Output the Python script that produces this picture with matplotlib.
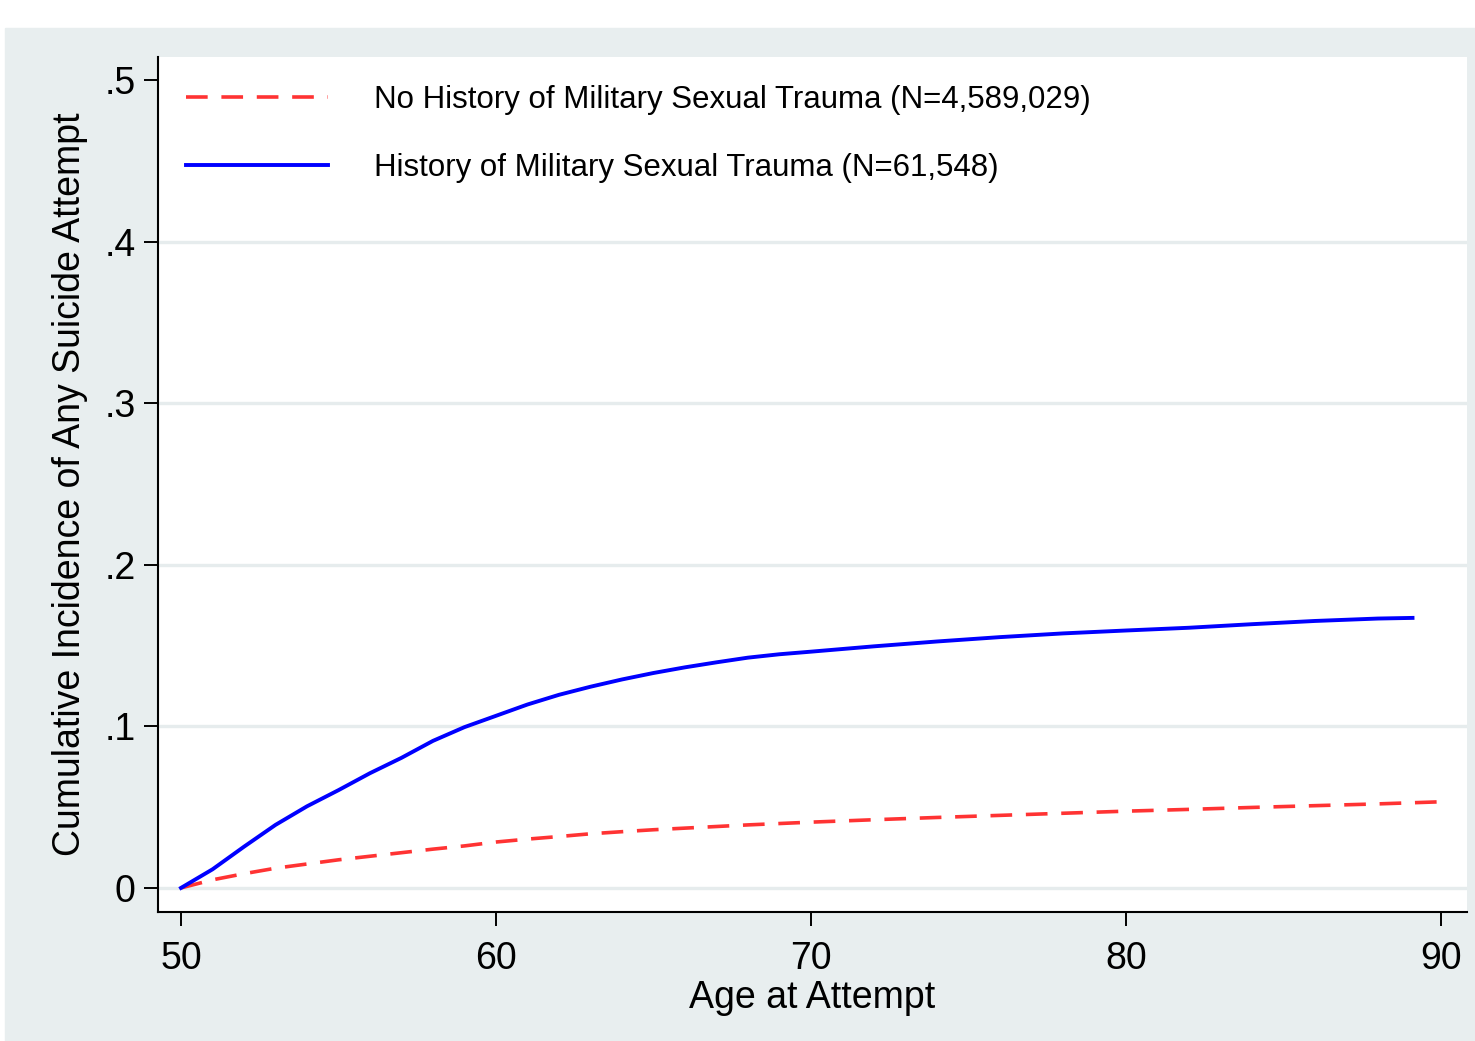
import matplotlib.pyplot as plt
from matplotlib.patches import Rectangle

plt.rcParams['font.family'] = ['Liberation Sans', 'DejaVu Sans']

# Cumulative incidence
mst_age = [50, 51, 52, 53, 54, 55, 56, 57, 58, 59, 60, 61, 62, 63, 64, 65,
           66, 67, 68, 69, 70, 72, 74, 76, 78, 80, 82, 84, 86, 88, 89.1]
mst_inc = [0, 0.0115, 0.0255, 0.039, 0.0505, 0.0605, 0.071, 0.0805, 0.091,
           0.0995, 0.1065, 0.1135, 0.1195, 0.1245, 0.129, 0.133, 0.1365,
           0.1396, 0.1425, 0.1446, 0.1462, 0.1495, 0.1525, 0.1552, 0.1575,
           0.1593, 0.161, 0.1632, 0.1652, 0.1667, 0.1671]

nomst_age = [50, 51, 52, 53, 54, 55, 56, 57, 58, 59, 60, 61, 62, 63, 64, 65,
             66, 68, 70, 72, 74, 76, 78, 80, 82, 84, 86, 88, 90]
nomst_inc = [0, 0.005, 0.0088, 0.0122, 0.0148, 0.0174, 0.0196, 0.0218,
             0.024, 0.026, 0.0284, 0.0302, 0.0318, 0.0335, 0.0348, 0.036,
             0.037, 0.039, 0.0407, 0.0422, 0.0436, 0.0449, 0.0462, 0.0475,
             0.0486, 0.0498, 0.0509, 0.052, 0.0533]

labels = ["No History of Military Sexual Trauma (N=4,589,029)",
          "History of Military Sexual Trauma (N=61,548)"]
xticks = [50, 60, 70, 80, 90]
yticks = [0, 0.1, 0.2, 0.3, 0.4, 0.5]
ytick_labels = ["0", ".1", ".2", ".3", ".4", ".5"]

bg = "#e8eeef"

fig = plt.figure(figsize=(14.75, 10.41), dpi=100)
fig.patches.append(Rectangle((5 / 1475, 0), 1, 1 - 28 / 1041,
                             transform=fig.transFigure, color=bg, zorder=-1))

ax = fig.add_axes([158 / 1475, 1 - 912 / 1041, 1309 / 1475, 855 / 1041])
ax.set_facecolor("white")

ax.plot(nomst_age, nomst_inc, color="#ff3333", lw=2.6, dashes=(6, 3.8),
        label=labels[0])
ax.plot(mst_age, mst_inc, color="#0000ff", lw=2.8, label=labels[1])

ax.set_xlim(49.27, 90.83)
ax.set_ylim(-0.0149, 0.5142)
ax.set_xticks(xticks)
ax.set_xticklabels([str(t) for t in xticks], fontsize=27)
ax.set_yticks(yticks)
ax.set_yticklabels(ytick_labels, fontsize=27)

ax.grid(axis="y", color="#e6eced", lw=2.4)
ax.yaxis.get_gridlines()[-1].set_visible(False)
ax.set_axisbelow(True)

for s in ["top", "right"]:
    ax.spines[s].set_visible(False)
for s in ["left", "bottom"]:
    ax.spines[s].set_linewidth(1.5)
ax.tick_params(length=10, width=1.4, direction="out", pad=6)
ax.tick_params(axis="x", pad=11)

ax.set_xlabel("Age at Attempt", fontsize=27, labelpad=2)
ax.set_ylabel("Cumulative Incidence of Any Suicide Attempt", fontsize=27,
              labelpad=12)

ax.legend(loc="upper left", bbox_to_anchor=(0.0214, 0.9675), frameon=False,
          fontsize=22.5, handlelength=4.55, handletextpad=1.47,
          labelspacing=1.23, borderpad=0, borderaxespad=0)

fig.savefig("out.png", dpi=100, facecolor="white")
